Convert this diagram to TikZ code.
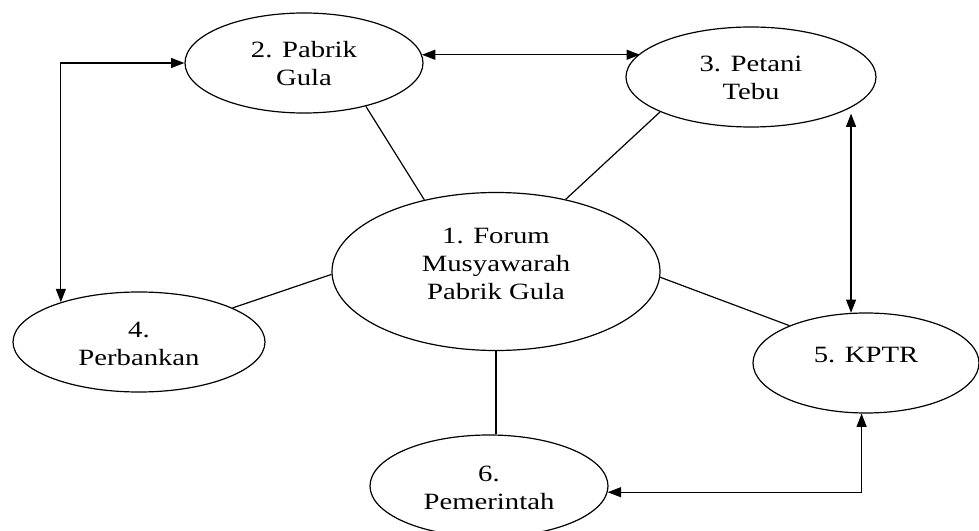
\documentclass[tikz,border=0pt]{standalone}
\usepackage{fontspec}
\setmainfont{Liberation Serif}[FakeStretch=1.23]
\usetikzlibrary{arrows.meta,shapes.geometric}
\newcommand{\nodetxt}[2]{\smash{\raisebox{#1}{\begin{tabular}[t]{@{}c@{}}#2\end{tabular}}}}
\begin{document}
\begin{tikzpicture}[x=0.75pt,y=-0.75pt,
  ent/.style={draw, ellipse, line width=0.9pt, inner sep=0pt, font=\fontsize{17.5}{21}\selectfont},
  link/.style={line width=0.9pt},
  dbl/.style={line width=0.9pt, {Triangle[length=10pt,width=7.5pt]}-{Triangle[length=10pt,width=7.5pt]}}]
\useasboundingbox (0,0) rectangle (979,531);
\node[ent, minimum width=246pt, minimum height=118.5pt] (n1) at (496,271.5) {\nodetxt{21.2pt}{1. Forum\\Musyawarah\\Pabrik Gula}};
\node[ent, minimum width=178.5pt, minimum height=75pt] (n2) at (304,63) {\nodetxt{3.75pt}{2. Pabrik\\Gula}};
\node[ent, minimum width=187.5pt, minimum height=75pt] (n3) at (751,77) {\nodetxt{3.75pt}{3. Petani\\Tebu}};
\node[ent, minimum width=189pt, minimum height=75pt] (n4) at (139,342) {\nodetxt{3.75pt}{4.\\Perbankan}};
\node[ent, minimum width=169.5pt, minimum height=75pt] (n5) at (866,363) {\nodetxt{0.75pt}{5. KPTR}};
\node[ent, minimum width=178.5pt, minimum height=76.5pt] (n6) at (489,486) {\nodetxt{3.75pt}{6.\\Pemerintah}};
\draw[link] (n2.325) -- (n1.135);
\draw[link] (n3.201) -- (n1.46);
\draw[link] (n4.20) -- (n1.181);
\draw[link] (n5.154) -- (n1.358);
\draw[link] (n1.south) -- (n1.south |- n6.north);
\draw[dbl] (n2.4) -- (n2.4 -| n3.168);
\draw[dbl] (n2.west) -| (n4.153);
\draw[dbl, shorten <=4.5pt] (n3.343) -- (n3.343 |- n5.107);
\draw[dbl] (n6.357) -| (n5.265);
\end{tikzpicture}
\end{document}
